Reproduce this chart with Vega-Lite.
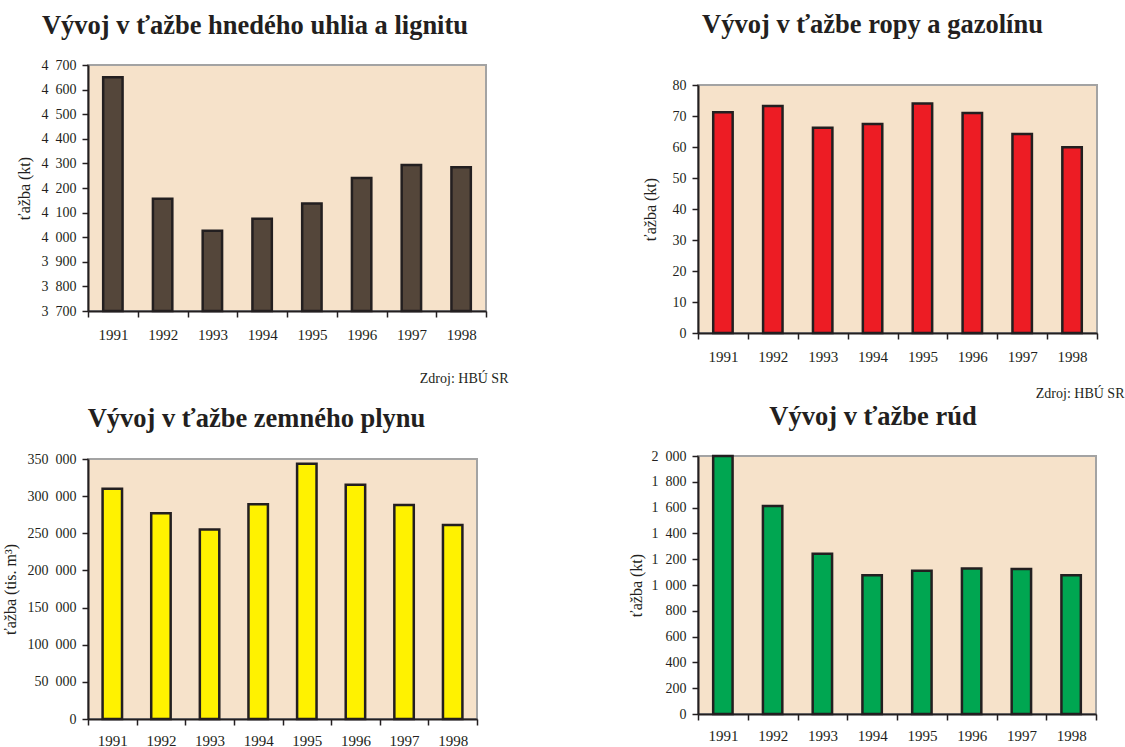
{
  "$schema": "https://vega.github.io/schema/vega-lite/v6.json",
  "padding": {"left": 0, "top": 11, "right": 0, "bottom": 0},
  "background": "white",
  "config": {
    "locale": {"number": {"decimal": ",", "thousands": "\u2002", "grouping": [3], "currency": ["", ""]}},
    "font": "Liberation Serif",
    "view": {"fill": "#F6E2CA", "stroke": "#A3A3A3", "strokeWidth": 2},
    "axis": {
      "labelFont": "Liberation Serif", "labelFontSize": 14, "labelColor": "#231F20",
      "titleFont": "Liberation Serif", "titleFontSize": 16, "titleFontWeight": "normal", "titleColor": "#231F20",
      "domainColor": "#231F20", "domainWidth": 2, "tickColor": "#231F20", "tickWidth": 1.5, "tickSize": 6,
      "grid": false, "labelOverlap": false, "labelFlush": false
    },
    "axisX": {"labelAngle": 0, "labelPadding": 10, "labelFontSize": 15, "tickBand": "extent"},
    "axisY": {"labelPadding": 6, "titleBaseline": "middle"},
    "title": {"font": "Liberation Serif", "fontSize": 26.5, "fontWeight": "bold", "color": "#231F20", "frame": "group", "baseline": "alphabetic", "anchor": "middle"},
    "bar": {"stroke": "#231F20", "strokeWidth": 2.5}
  },
  "spacing": 118,
  "hconcat": [
    {
      "spacing": 18,
      "vconcat": [
        {
          "title": {"text": "Vývoj v ťažbe hnedého uhlia a lignitu", "offset": 19, "dx": -32},
          "width": 398, "height": 246,
          "data": {"values": [
            {"rok": "1991", "tazba": 4650}, {"rok": "1992", "tazba": 4156}, {"rok": "1993", "tazba": 4026}, {"rok": "1994", "tazba": 4075},
            {"rok": "1995", "tazba": 4137}, {"rok": "1996", "tazba": 4241}, {"rok": "1997", "tazba": 4294}, {"rok": "1998", "tazba": 4284}
          ]},
          "mark": {"type": "bar", "width": {"band": 0.39}, "color": "#54463A"},
          "encoding": {
            "x": {"field": "rok", "type": "nominal", "scale": {"paddingInner": 0, "paddingOuter": 0},
                  "axis": {"title": "Zdroj: HBÚ SR", "titleX": 420, "titleY": 71, "titleAlign": "right", "titleBaseline": "alphabetic", "titleFontSize": 14}},
            "y": {"field": "tazba", "type": "quantitative", "scale": {"domain": [3700, 4700], "zero": false, "nice": false},
                  "axis": {"title": "ťažba (kt)", "values": [3700, 3800, 3900, 4000, 4100, 4200, 4300, 4400, 4500, 4600, 4700], "format": ",d", "titleX": -64}},
            "y2": {"datum": 3700}
          }
        },
        {
          "title": {"text": "Vývoj v ťažbe zemného plynu", "offset": 20, "dx": -26},
          "width": 389, "height": 260,
          "data": {"values": [
            {"rok": "1991", "tazba": 310000}, {"rok": "1992", "tazba": 277000}, {"rok": "1993", "tazba": 255000}, {"rok": "1994", "tazba": 289000},
            {"rok": "1995", "tazba": 343500}, {"rok": "1996", "tazba": 315500}, {"rok": "1997", "tazba": 288000}, {"rok": "1998", "tazba": 261000}
          ]},
          "mark": {"type": "bar", "width": {"band": 0.4}, "color": "#FFF200"},
          "encoding": {
            "x": {"field": "rok", "type": "nominal", "scale": {"paddingInner": 0, "paddingOuter": 0}, "axis": {"title": null, "labelPadding": 8}},
            "y": {"field": "tazba", "type": "quantitative", "scale": {"domain": [0, 350000], "nice": false},
                  "axis": {"title": "ťažba (tis. m³)", "values": [0, 50000, 100000, 150000, 200000, 250000, 300000, 350000], "format": ",d", "titleX": -78}}
          }
        }
      ]
    },
    {
      "spacing": 1,
      "vconcat": [
        {
          "title": {"text": "Vývoj v ťažbe ropy a gazolínu", "offset": 27, "dx": -25},
          "width": 399, "height": 11,
          "view": {"fill": null, "stroke": null},
          "data": {"values": []},
          "mark": {"type": "point", "opacity": 0},
          "encoding": {}
        },
        {
          "width": 399, "height": 248,
          "data": {"values": [
            {"rok": "1991", "tazba": 71.2}, {"rok": "1992", "tazba": 73.2}, {"rok": "1993", "tazba": 66.2}, {"rok": "1994", "tazba": 67.4},
            {"rok": "1995", "tazba": 74.0}, {"rok": "1996", "tazba": 71.0}, {"rok": "1997", "tazba": 64.2}, {"rok": "1998", "tazba": 59.9}
          ]},
          "mark": {"type": "bar", "width": {"band": 0.39}, "color": "#ED1C24"},
          "encoding": {
            "x": {"field": "rok", "type": "nominal", "scale": {"paddingInner": 0, "paddingOuter": 0},
                  "axis": {"title": "Zdroj: HBÚ SR", "titleX": 426, "titleY": 64, "titleAlign": "right", "titleBaseline": "alphabetic", "titleFontSize": 14}},
            "y": {"field": "tazba", "type": "quantitative", "scale": {"domain": [0, 80], "nice": false},
                  "axis": {"title": "ťažba (kt)", "values": [0, 10, 20, 30, 40, 50, 60, 70, 80], "titleX": -48}}
          }
        },
        {
          "title": {"text": "Vývoj v ťažbe rúd", "offset": 19, "dx": -24},
          "width": 398, "height": 258,
          "data": {"values": [
            {"rok": "1991", "tazba": 2000}, {"rok": "1992", "tazba": 1613}, {"rok": "1993", "tazba": 1243}, {"rok": "1994", "tazba": 1075},
            {"rok": "1995", "tazba": 1111}, {"rok": "1996", "tazba": 1127}, {"rok": "1997", "tazba": 1124}, {"rok": "1998", "tazba": 1075}
          ]},
          "mark": {"type": "bar", "width": {"band": 0.39}, "color": "#00A651"},
          "encoding": {
            "x": {"field": "rok", "type": "nominal", "scale": {"paddingInner": 0, "paddingOuter": 0}, "axis": {"title": null, "labelPadding": 8}},
            "y": {"field": "tazba", "type": "quantitative", "scale": {"domain": [0, 2000], "nice": false},
                  "axis": {"title": "ťažba (kt)", "values": [0, 200, 400, 600, 800, 1000, 1200, 1400, 1600, 1800, 2000], "format": ",d", "titleX": -62}}
          }
        }
      ]
    }
  ]
}
